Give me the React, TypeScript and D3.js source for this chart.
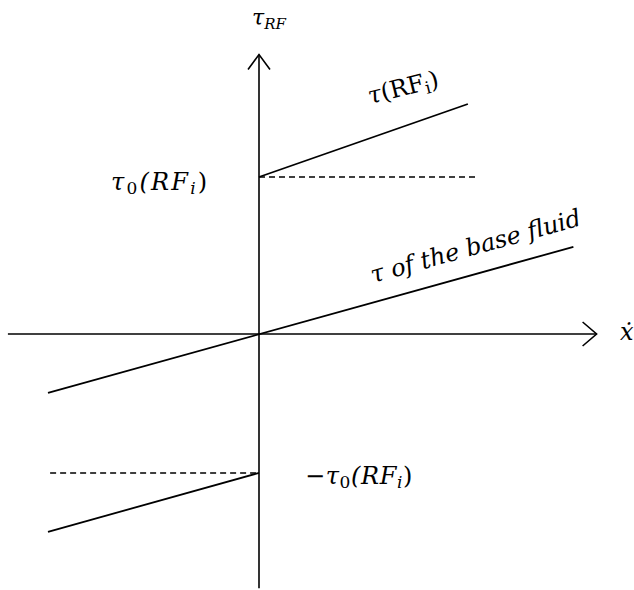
import { useEffect, useRef } from "react";
import * as d3 from "d3";

// conceptual shear stress vs shear rate (units: tau0 = 1, shear rate where RF line ends = 1)
const xAxisExtent = [-1.19, 1.6];
const yAxisExtent = [-1.62, 1.78];

const baseFluid = [
  { x: -1, y: -0.375 },
  { x: 1.49, y: 0.555 },
];
const rfUpper = [
  { x: 0, y: 1 },
  { x: 0.99, y: 1.465 },
];
const rfLower = [
  { x: -1, y: -1.26 },
  { x: 0, y: -0.885 },
];
const tau0Upper = [
  { x: 0, y: 1 },
  { x: 1.03, y: 1 },
];
const tau0Lower = [
  { x: -0.99, y: -0.885 },
  { x: 0, y: -0.885 },
];

const width = 634;
const height = 590;
const font = "'DejaVu Serif', 'Liberation Serif', serif";

const App = () => {
  const gRef = useRef(null);

  const x = d3.scaleLinear().domain([-1, 1]).range([48, 470]);
  const y = d3.scaleLinear().domain([-1, 1]).range([491, 177]);

  useEffect(() => {
    const g = d3.select(gRef.current);
    g.selectAll("*").remove();

    const line = d3
      .line<{ x: number; y: number }>()
      .x((d) => x(d.x))
      .y((d) => y(d.y));

    // axes
    g.append("line")
      .attr("x1", x(xAxisExtent[0]))
      .attr("x2", x(xAxisExtent[1]))
      .attr("y1", y(0))
      .attr("y2", y(0))
      .attr("stroke", "#000")
      .attr("stroke-width", 1.6);
    g.append("line")
      .attr("x1", x(0))
      .attr("x2", x(0))
      .attr("y1", y(yAxisExtent[0]))
      .attr("y2", y(yAxisExtent[1]))
      .attr("stroke", "#000")
      .attr("stroke-width", 1.6);

    // arrow heads (open chevrons)
    const xt = x(xAxisExtent[1]);
    g.append("path")
      .attr("d", `M${xt - 14},${y(0) - 12}L${xt},${y(0)}L${xt - 14},${y(0) + 12}`)
      .attr("fill", "none")
      .attr("stroke", "#000")
      .attr("stroke-width", 1.6);
    const yt = y(yAxisExtent[1]);
    g.append("path")
      .attr("d", `M${x(0) - 11},${yt + 15}L${x(0)},${yt}L${x(0) + 11},${yt + 15}`)
      .attr("fill", "none")
      .attr("stroke", "#000")
      .attr("stroke-width", 1.6);

    [baseFluid, rfUpper, rfLower].forEach((d) =>
      g.append("path")
        .datum(d)
        .attr("d", line)
        .attr("fill", "none")
        .attr("stroke", "#000")
        .attr("stroke-width", 1.8),
    );
    [tau0Upper, tau0Lower].forEach((d) =>
      g.append("path")
        .datum(d)
        .attr("d", line)
        .attr("fill", "none")
        .attr("stroke", "#000")
        .attr("stroke-width", 1.4)
        .attr("stroke-dasharray", "6,4"),
    );
  }, []);

  return (
    <svg
      width={width}
      height={height}
      style={{ position: "absolute", left: 0, top: 0, background: "#fff" }}
      fontFamily={font}
    >
      <g ref={gRef}></g>
      <text x={252} y={25} fontSize={22} fontStyle="italic">
        τ<tspan fontSize={15} dy={4}>RF</tspan>
      </text>
      <text x={111} y={190} fontSize={24} fontStyle="italic" letterSpacing={2.2}>
        τ<tspan fontSize={17} dy={4} fontStyle="normal">0</tspan>
        <tspan dy={-4}>(RF</tspan>
        <tspan fontSize={17} dy={4}>i</tspan>
        <tspan dy={-4} fontStyle="normal">)</tspan>
      </text>
      <text x={305} y={484} fontSize={24} fontStyle="italic" letterSpacing={0.6}>
        <tspan fontStyle="normal">−</tspan>τ
        <tspan fontSize={17} dy={4} fontStyle="normal">0</tspan>
        <tspan dy={-4}>(RF</tspan>
        <tspan fontSize={17} dy={4}>i</tspan>
        <tspan dy={-4} fontStyle="normal">)</tspan>
      </text>
      <text x={370} y={104} fontSize={24} transform="rotate(-14 370 104)">
        <tspan fontStyle="italic">τ</tspan>(RF
        <tspan fontSize={17} dy={4}>i</tspan>
        <tspan dy={-4}>)</tspan>
      </text>
      <text
        x={373}
        y={283}
        fontSize={24}
        fontStyle="italic"
        transform="rotate(-15.5 373 283)"
      >
        τ of the base fluid
      </text>
      <text x={620} y={340} fontSize={24} fontStyle="italic">
        ẋ
      </text>
    </svg>
  );
};

export default App;
